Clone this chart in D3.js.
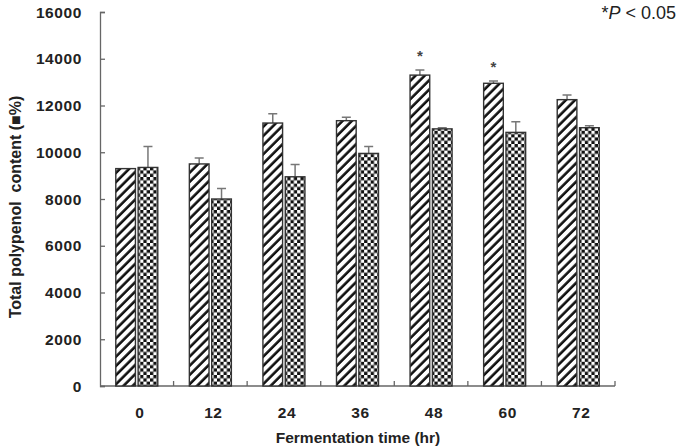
<!DOCTYPE html>
<html>
<head>
<meta charset="utf-8">
<script src="https://cdn.jsdelivr.net/npm/d3@7"></script>
<style>
  body { margin: 0; background: #fff; }
  text { font-family: "Liberation Sans", Arial, sans-serif; }
</style>
</head>
<body>
<div id="myPlot"></div>
<script>
// data
var hours = ["0", "12", "24", "36", "48", "60", "72"];
var seriesNames = ["hatched", "checked"];
var hatchedValues = [9300, 9500, 11250, 11350, 13300, 12950, 12250];
var hatchedErrors = [0, 250, 400, 150, 220, 100, 200];
var checkedValues = [9350, 8000, 8950, 9950, 11000, 10850, 11050];
var checkedErrors = [900, 450, 530, 300, 50, 450, 80];
var significant = ["48", "60"];
var yTicks = [0, 2000, 4000, 6000, 8000, 10000, 12000, 14000, 16000];

// set the dimensions and margins of the graph
var margin = { top: 12, right: 72, bottom: 61, left: 100 },
  width = 687 - margin.left - margin.right,
  height = 447 - margin.top - margin.bottom;

var root = d3.select("#myPlot")
  .append("svg")
  .attr("width", 687)
  .attr("height", 447);

// fill patterns
var defs = root.append("defs");
var hatch = defs.append("pattern")
  .attr("id", "hatch")
  .attr("patternUnits", "userSpaceOnUse")
  .attr("width", 6.5)
  .attr("height", 6.5)
  .attr("patternTransform", "rotate(45)");
hatch.append("rect").attr("width", 6.5).attr("height", 6.5).attr("fill", "#fff");
hatch.append("line")
  .attr("x1", 1.5).attr("y1", 0).attr("x2", 1.5).attr("y2", 6.5)
  .attr("stroke", "#111").attr("stroke-width", 2.6);

var check = defs.append("pattern")
  .attr("id", "check")
  .attr("patternUnits", "userSpaceOnUse")
  .attr("width", 6.6)
  .attr("height", 6.6);
check.append("rect").attr("width", 6.6).attr("height", 6.6).attr("fill", "#111");
check.append("rect").attr("width", 3.3).attr("height", 3.3).attr("fill", "#fff");
check.append("rect").attr("x", 3.3).attr("y", 3.3).attr("width", 3.3).attr("height", 3.3).attr("fill", "#fff");

var svg = root.append("g")
  .attr("transform", "translate(" + margin.left + "," + margin.top + ")");

var x = d3.scaleBand()
  .domain(hours)
  .range([0, width]);

var xInner = d3.scaleBand()
  .domain(seriesNames)
  .range([-21, 21])
  .paddingInner(0.12);

var y = d3.scaleLinear()
  .domain([0, 16000])
  .range([height, 0]);

// axes
var axisColor = "#666";
var yAxis = svg.append("g")
  .call(d3.axisRight(y).tickValues(yTicks).tickSize(5).tickFormat(""));
yAxis.select(".domain").attr("stroke", axisColor).attr("stroke-width", 1.3);
yAxis.selectAll(".tick line").attr("stroke", axisColor).attr("stroke-width", 1.3);

svg.selectAll(".ylab")
  .data(yTicks)
  .enter().append("text")
  .attr("class", "ylab")
  .attr("x", -18)
  .attr("y", function (d) { return y(d); })
  .attr("dy", "0.36em")
  .attr("text-anchor", "end")
  .attr("font-size", 15.5)
  .attr("font-weight", "bold")
  .attr("fill", "#222")
  .attr("letter-spacing", 0.6)
  .text(function (d) { return d; });

var boundaries = hours.map(function (h) { return x(h) + x.bandwidth(); });
var xAxis = svg.append("g")
  .attr("transform", "translate(0," + height + ")");
xAxis.append("line")
  .attr("x1", 0).attr("x2", width)
  .attr("stroke", axisColor).attr("stroke-width", 1.3);
xAxis.selectAll(".xt")
  .data(boundaries)
  .enter().append("line")
  .attr("x1", function (d) { return d; })
  .attr("x2", function (d) { return d; })
  .attr("y1", 0).attr("y2", -5)
  .attr("stroke", axisColor).attr("stroke-width", 1.3);

svg.selectAll(".xlab")
  .data(hours)
  .enter().append("text")
  .attr("class", "xlab")
  .attr("x", function (d) { return x(d) + x.bandwidth() / 2 + 3; })
  .attr("y", height + 32)
  .attr("text-anchor", "middle")
  .attr("font-size", 15.5)
  .attr("font-weight", "bold")
  .attr("fill", "#222")
  .attr("letter-spacing", 0.6)
  .text(function (d) { return d; });

// bars
var rows = hours.map(function (h, i) {
  return [
    { hour: h, key: "hatched", value: hatchedValues[i], err: hatchedErrors[i] },
    { hour: h, key: "checked", value: checkedValues[i], err: checkedErrors[i] }
  ];
});

var groups = svg.selectAll(".grp")
  .data(rows)
  .enter().append("g")
  .attr("class", "grp")
  .attr("transform", function (d) { return "translate(" + (x(d[0].hour) + x.bandwidth() / 2) + ",0)"; });

// error bars (upper only)
groups.selectAll(".err")
  .data(function (d) { return d.filter(function (e) { return e.err > 0; }); })
  .enter().append("path")
  .attr("class", "err")
  .attr("fill", "none")
  .attr("stroke", "#777")
  .attr("stroke-width", 1.5)
  .attr("d", function (d) {
    var cx = xInner(d.key) + xInner.bandwidth() / 2;
    var top = y(d.value + d.err);
    return "M" + cx + "," + y(d.value) + "V" + top + "M" + (cx - 4.5) + "," + top + "H" + (cx + 4.5);
  });

groups.selectAll(".bar")
  .data(function (d) { return d; })
  .enter().append("rect")
  .attr("class", "bar")
  .attr("x", function (d) { return xInner(d.key); })
  .attr("y", function (d) { return y(d.value); })
  .attr("width", xInner.bandwidth())
  .attr("height", function (d) { return height - y(d.value); })
  .attr("fill", function (d) { return d.key === "hatched" ? "url(#hatch)" : "url(#check)"; })
  .attr("stroke", "#333")
  .attr("stroke-width", 1.4);

// significance marks
groups.filter(function (d) { return significant.indexOf(d[0].hour) >= 0; })
  .append("text")
  .attr("x", xInner("hatched") + xInner.bandwidth() / 2)
  .attr("y", function (d) { return y(d[0].value + d[0].err) - 9; })
  .attr("text-anchor", "middle")
  .attr("font-size", 15)
  .attr("font-weight", "bold")
  .attr("fill", "#444")
  .text("*");

// titles
root.append("text")
  .attr("transform", "translate(21," + 207 + ") rotate(-90)")
  .attr("text-anchor", "middle")
  .attr("font-size", 16)
  .attr("font-weight", "bold")
  .attr("fill", "#222")
  .attr("xml:space", "preserve")
  .text("Total polypenol  content (\u25A0%)");

root.append("text")
  .attr("x", 358)
  .attr("y", 443)
  .attr("text-anchor", "middle")
  .attr("font-size", 15.5)
  .attr("font-weight", "bold")
  .attr("fill", "#222")
  .text("Fermentation time (hr)");

var note = root.append("text")
  .attr("x", 676)
  .attr("y", 19)
  .attr("text-anchor", "end")
  .attr("font-size", 18)
  .attr("fill", "#222");
note.append("tspan").text("*");
note.append("tspan").attr("font-style", "italic").text("P");
note.append("tspan").text(" < 0.05");
</script>
</body>
</html>
